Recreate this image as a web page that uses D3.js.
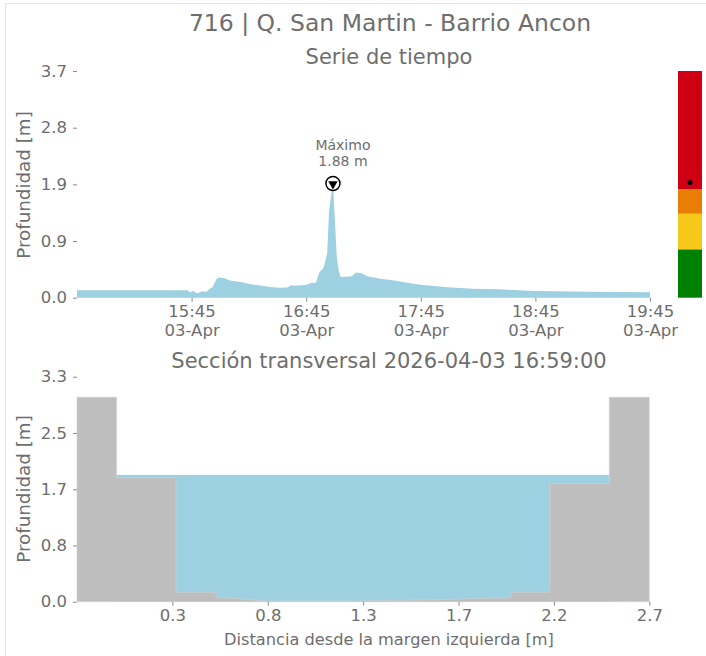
<!DOCTYPE html>
<html>
<head>
<meta charset="utf-8">
<script src="https://cdn.jsdelivr.net/npm/d3@7"></script>
<style>
  body { margin: 0; background: #fff; }
  text { font-family: "DejaVu Sans", sans-serif; fill: #6e6e6e; }
</style>
</head>
<body>
<div id="chart"></div>
<script>
// ******************************** DATA ***************************************
var stationTitle = "716 | Q. San Martin - Barrio Ancon";
var seriesTitle = "Serie de tiempo";
var sectionTitle = "Sección transversal 2026-04-03 16:59:00";

// time series (03-Apr), depth in m
var times = ["14:45","15:43","15:44","15:46","15:48","15:50","15:53","15:55","15:56","15:58",
  "15:59","16:02","16:05","16:10","16:16","16:21","16:26","16:31","16:35","16:37",
  "16:42","16:45","16:48","16:50","16:52","16:54","16:56","16:57","16:59","17:00",
  "17:01","17:02","17:03","17:06","17:09","17:11","17:14","17:17","17:24","17:31",
  "17:38","17:45","17:52","17:59","18:12","18:26","18:45","19:14","19:45"];
var depths = [0.12,0.12,0.09,0.11,0.07,0.10,0.10,0.16,0.17,0.30,
  0.33,0.32,0.28,0.26,0.22,0.20,0.175,0.163,0.165,0.20,
  0.20,0.21,0.245,0.24,0.42,0.48,0.72,1.43,1.88,1.27,
  0.67,0.45,0.34,0.34,0.35,0.41,0.40,0.35,0.31,0.28,
  0.245,0.21,0.19,0.17,0.147,0.137,0.11,0.098,0.088];
var timeTicks = ["15:45","16:45","17:45","18:45","19:45"];
var dateLabel = "03-Apr";
var topYMax = 3.7;

// alert bands (m) and colours
var alertLevels = [0, 0.79, 1.37, 1.77, 3.7];
var alertColors = ["#008000", "#f6c81a", "#e97e06", "#d00014"];

// cross section
var groundX = [0, 0.187, 0.187, 0.467, 0.467, 0.656, 0.656, 0.9, 1.3, 1.7, 2.047, 2.047, 2.231, 2.231, 2.511, 2.511, 2.7];
var groundZ = [3.0, 3.0, 1.82, 1.82, 0.14, 0.14, 0.07, 0.01, 0.01, 0.03, 0.06, 0.14, 0.14, 1.73, 1.73, 3.0, 3.0];
var waterLevel = 1.86;
var waterFrom = 0.187, waterTo = 2.511;
var sectionXTicks = [0.45, 0.9, 1.35, 1.8, 2.25, 2.7];
var sectionXLabels = ["0.3", "0.8", "1.3", "1.7", "2.2", "2.7"];
var bottomYMax = 3.3;

// ******************************** CANVAS *************************************
var svgWidth = 706, svgHeight = 656;
var water = "#9dd0e0", ground = "#bebebe", tickColor = "#8a8a8a";

var svg = d3.select("#chart").append("svg")
  .attr("width", svgWidth)
  .attr("height", svgHeight);

// faint card border
svg.append("rect")
  .attr("x", 5.5).attr("y", 3.5)
  .attr("width", 760).attr("height", 700)
  .attr("fill", "none").attr("stroke", "#e6e6e6");

svg.append("text").attr("x", 390).attr("y", 31)
  .attr("text-anchor", "middle").style("font-size", "23.5px")
  .text(stationTitle);

svg.append("text").attr("x", 389).attr("y", 64)
  .attr("text-anchor", "middle").style("font-size", "21px")
  .text(seriesTitle);

// ******************************** SCALES *************************************
var parseTime = d3.timeParse("%Y-%m-%d %H:%M");
var series = times.map(function(t, i) {
  return {date: parseTime("2026-04-03 " + t), depth: depths[i]};
});

var xTime = d3.scaleTime()
  .domain(d3.extent(series, d => d.date))
  .range([77, 650]);
var yTop = d3.scaleLinear().domain([0, topYMax]).range([297.7, 71]);

var xSec = d3.scaleLinear().domain([0, 2.7]).range([77, 649.3]);
var yBot = d3.scaleLinear().domain([0, bottomYMax]).range([601.7, 376.7]);

// linspace ticks like the original, rounded half up
function linspace(a, b, n) {
  return d3.range(n).map(i => a + (b - a) * i / (n - 1));
}
var oneDecimal = d => (Math.round(d * 10 + 1e-6) / 10).toFixed(1);

// ******************************** TOP CHART **********************************
var topChart = svg.append("g");

topChart.append("path")
  .datum(series)
  .attr("fill", water)
  .attr("d", d3.area()
    .x(d => xTime(d.date))
    .y0(yTop(0))
    .y1(d => yTop(d.depth)));

var yAxisTop = d3.axisLeft(yTop)
  .tickValues(linspace(0, topYMax, 5))
  .tickFormat(oneDecimal)
  .tickSize(4).tickPadding(6);

topChart.append("g").attr("transform", "translate(77,0)").call(yAxisTop);

var xAxisTop = d3.axisBottom(xTime)
  .tickValues(timeTicks.map(t => parseTime("2026-04-03 " + t)))
  .tickFormat(d3.timeFormat("%H:%M"))
  .tickSize(4).tickPadding(4);

var gxt = topChart.append("g").attr("transform", "translate(0,297.7)").call(xAxisTop);
gxt.selectAll(".tick text").each(function() {
  var t = d3.select(this), lbl = t.text();
  t.text(null);
  t.append("tspan").attr("x", 0).attr("dy", "0.71em").text(lbl);
  t.append("tspan").attr("x", 0).attr("dy", "1.15em").text(dateLabel);
});

svg.append("text")
  .attr("transform", "translate(30,185) rotate(-90)")
  .attr("text-anchor", "middle").style("font-size", "18.3px")
  .text("Profundidad [m]");

// maximum marker
var maxPoint = series[d3.maxIndex(series, d => d.depth)];
var mx = xTime(maxPoint.date), my = yTop(maxPoint.depth);
topChart.append("circle").attr("cx", mx).attr("cy", my + 1).attr("r", 7)
  .attr("fill", "#fff").attr("stroke", "#000").attr("stroke-width", 1.5);
topChart.append("path")
  .attr("d", d3.symbol(d3.symbolTriangle, 38)())
  .attr("transform", `translate(${mx},${my + 1.5}) rotate(180)`)
  .attr("fill", "#000");
var ann = topChart.append("text").attr("text-anchor", "middle").style("font-size", "14px");
ann.append("tspan").attr("x", mx + 10).attr("y", 150).text("Máximo");
ann.append("tspan").attr("x", mx + 10).attr("y", 166).text(d3.format(".2f")(maxPoint.depth) + " m");

// alert colour bar
var bands = d3.range(alertColors.length).map(i => ({lo: alertLevels[i], hi: alertLevels[i + 1], c: alertColors[i]}));
svg.selectAll(".band").data(bands).enter().append("rect")
  .attr("x", 678).attr("width", 24)
  .attr("y", d => yTop(d.hi))
  .attr("height", d => yTop(d.lo) - yTop(d.hi))
  .attr("fill", d => d.c);
svg.append("circle").attr("cx", 690).attr("cy", yTop(maxPoint.depth)).attr("r", 2.5).attr("fill", "#000");

// ******************************** BOTTOM CHART *******************************
svg.append("text").attr("x", 389).attr("y", 368)
  .attr("text-anchor", "middle").style("font-size", "21px")
  .text(sectionTitle);

var bot = svg.append("g");

bot.append("rect")
  .attr("x", xSec(waterFrom)).attr("y", yBot(waterLevel))
  .attr("width", xSec(waterTo) - xSec(waterFrom))
  .attr("height", yBot(0) - yBot(waterLevel))
  .attr("fill", water);

var groundPts = groundX.map((x, i) => ({x: x, z: groundZ[i]}));
bot.append("path")
  .datum(groundPts)
  .attr("fill", ground)
  .attr("stroke", "#d4d4d4").attr("stroke-width", 0.6)
  .attr("d", d3.area()
    .x(d => xSec(d.x))
    .y0(yBot(0))
    .y1(d => yBot(d.z)));

var yAxisBot = d3.axisLeft(yBot)
  .tickValues(linspace(0, bottomYMax, 5))
  .tickFormat(oneDecimal)
  .tickSize(4).tickPadding(6);
bot.append("g").attr("transform", "translate(77,0)").call(yAxisBot);

var xAxisBot = d3.axisBottom(xSec)
  .tickValues(sectionXTicks)
  .tickFormat((d, i) => sectionXLabels[i])
  .tickSize(4).tickPadding(4);
bot.append("g").attr("transform", "translate(0,601.7)").call(xAxisBot);

svg.append("text")
  .attr("transform", "translate(30,489) rotate(-90)")
  .attr("text-anchor", "middle").style("font-size", "18.3px")
  .text("Profundidad [m]");

svg.append("text").attr("x", 389).attr("y", 645)
  .attr("text-anchor", "middle").style("font-size", "16.2px")
  .text("Distancia desde la margen izquierda [m]");

// axis styling: no spines, grey ticks and labels
svg.selectAll(".domain").remove();
svg.selectAll(".tick line").attr("stroke", tickColor);
svg.selectAll(".tick text")
  .style("font-size", "16.5px")
  .style("font-family", "DejaVu Sans, sans-serif")
  .attr("fill", "#6e6e6e");
</script>
</body>
</html>
